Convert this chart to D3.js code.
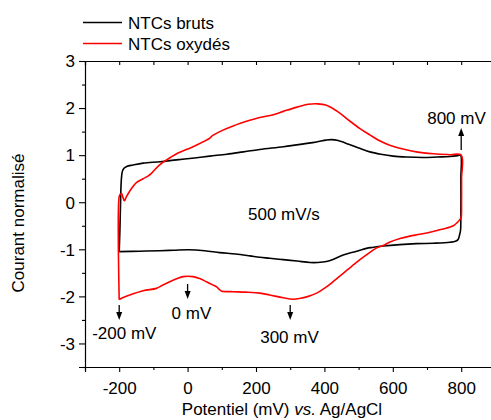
<!DOCTYPE html>
<html>
<head>
<meta charset="utf-8">
<script src="https://cdn.jsdelivr.net/npm/d3@7"></script>
<style>
  body { margin: 0; background: #fff; }
  text { font-family: "Liberation Sans", Arial, sans-serif; }
</style>
</head>
<body>
<div id="chart"></div>
<script>
// NTCs bruts : cycle (mV, courant normalise)
let brutsPotential = [-200, -198, -196, -194, -191, -186, -178, -160, -130, -80, -32, 20, 65, 115, 163, 211, 280, 340, 377, 405, 421, 440, 475, 505, 533, 565, 601, 640, 689, 730, 767, 790, 798,
  799, 799, 798, 795, 791, 783, 767, 720, 669, 620, 572, 540, 523, 500, 480, 455, 430, 406, 380, 358, 320, 280, 240, 211, 182, 140, 94, 50, 2, -40, -81, -140, -200];
let brutsCurrent = [-1.05, -0.6, 0.0, 0.45, 0.65, 0.72, 0.76, 0.79, 0.83, 0.86, 0.9, 0.94, 0.98, 1.02, 1.07, 1.12, 1.18, 1.24, 1.28, 1.32, 1.33, 1.31, 1.22, 1.14, 1.07, 1.02, 0.98, 0.96, 0.95, 0.96, 0.97, 0.99, 1.0,
  0.5, -0.3, -0.6, -0.7, -0.79, -0.83, -0.85, -0.87, -0.88, -0.9, -0.93, -0.96, -0.98, -1.03, -1.07, -1.12, -1.2, -1.26, -1.28, -1.28, -1.25, -1.22, -1.19, -1.17, -1.14, -1.1, -1.07, -1.03, -1.01, -1.02, -1.03, -1.04, -1.05];

// NTCs oxydes
let oxydesPotential = [-200, -200, -197, -193, -189, -185, -180, -169, -149, -130, -115, -105, -81, -50, -32, 16, 65, 70, 94, 133, 182, 211, 250, 280, 320, 353, 380, 406, 440, 475, 505, 533, 560, 591, 630, 669, 720, 767, 800,
  801, 801, 800, 797, 790, 777, 747, 718, 679, 650, 621, 590, 572, 553, 530, 504, 480, 455, 430, 406, 380, 353, 330, 309, 280, 240, 211, 170, 133, 100, 94, 85, 75, 55, 35, 16, -13, -30, -52, -75, -91, -130, -169, -190, -200];
let oxydesCurrent = [-2.07, 0.12, 0.17, 0.18, 0.1, 0.03, 0.1, 0.24, 0.42, 0.5, 0.56, 0.62, 0.8, 0.95, 1.03, 1.18, 1.36, 1.4, 1.5, 1.62, 1.74, 1.8, 1.86, 1.93, 2.02, 2.08, 2.09, 2.06, 1.92, 1.72, 1.56, 1.43, 1.31, 1.21, 1.13, 1.07, 1.03, 1.01, 1.0,
  0.5, 0.0, -0.31, -0.36, -0.42, -0.5, -0.57, -0.62, -0.68, -0.72, -0.77, -0.85, -0.92, -0.97, -1.08, -1.22, -1.36, -1.51, -1.66, -1.8, -1.92, -2.0, -2.04, -2.06, -2.03, -1.97, -1.93, -1.91, -1.9, -1.89, -1.86, -1.8, -1.76, -1.69, -1.62, -1.58, -1.58, -1.62, -1.69, -1.77, -1.83, -1.88, -1.97, -2.03, -2.07];

let xTicks = [-200, 0, 200, 400, 600, 800];
let xMinorTicks = [-300, -100, 100, 300, 500, 700, 900];
let yTicks = [-3, -2, -1, 0, 1, 2, 3];
let yMinorTicks = [-3.5, -2.5, -1.5, -0.5, 0.5, 1.5, 2.5];

let seriesNames = ["NTCs bruts", "NTCs oxydés"];
let seriesColors = ["#000000", "#ff0000"];

// annotations
let peakPositions = [800, -200, 0, 300];
let peakLabels = ["800 mV", "-200 mV", "0 mV", "300 mV"];

let chartW = 491, chartH = 420;
let padLeft = 85, padTop = 61, padBottom = 367;

let svg = d3.select("#chart").append("svg")
  .attr("width", chartW)
  .attr("height", chartH);

let xScale = d3.scaleLinear().domain([-300, 900]).range([padLeft, padLeft + 1200 * 0.342]);
let yScale = d3.scaleLinear().domain([-3.5, 3]).range([padBottom, padTop]);

let fmt = d => String(d);

// axes
let xAxis = d3.axisBottom(xScale).tickValues(xTicks).tickSize(5).tickPadding(10).tickFormat(fmt);
svg.append("g").attr("transform", "translate(0," + padBottom + ")").call(xAxis);
svg.append("g").attr("transform", "translate(0," + padBottom + ")")
  .call(d3.axisBottom(xScale).tickValues(xMinorTicks).tickSize(3).tickFormat(""))
  .call(g => g.select(".domain").remove());

svg.append("g").attr("transform", "translate(0," + padTop + ")")
  .call(d3.axisTop(xScale).tickValues(xTicks.concat(xMinorTicks)).tickSize(-4).tickFormat(""));

let yAxis = d3.axisLeft(yScale).tickValues(yTicks).tickSize(6).tickPadding(4).tickFormat(fmt);
let yAxisGroup = svg.append("g").attr("transform", "translate(" + padLeft + ",0)").call(yAxis);
svg.append("g").attr("transform", "translate(" + padLeft + ",0)")
  .call(d3.axisLeft(yScale).tickValues(yMinorTicks).tickSize(3).tickFormat(""))
  .call(g => g.select(".domain").remove());

svg.selectAll(".domain").attr("stroke", "#000").attr("stroke-width", 1.2);
svg.selectAll(".tick line").attr("stroke", "#000").attr("stroke-width", 1.1);
svg.selectAll(".tick text")
  .attr("font-size", "17px")
  .attr("fill", "#000")
  .style("font-family", "'Liberation Sans', Arial, sans-serif");
yAxisGroup.selectAll(".tick text").attr("dy", "0.34em");

// axis titles
let xTitle = svg.append("text")
  .attr("x", 282)
  .attr("y", 415)
  .attr("text-anchor", "middle")
  .attr("font-size", "17px");
xTitle.append("tspan").text("Potentiel (mV) ");
xTitle.append("tspan").attr("font-style", "italic").text("vs.");
xTitle.append("tspan").text(" Ag/AgCl");

svg.append("text")
  .attr("transform", "translate(24,223) rotate(-90)")
  .attr("text-anchor", "middle")
  .attr("font-size", "17px")
  .text("Courant normalisé");

// curves
let line = d3.line()
  .x(d => xScale(d[0]))
  .y(d => yScale(d[1]))
  .curve(d3.curveCatmullRom.alpha(0.5));

let brutsData = brutsPotential.map((p, i) => [p, brutsCurrent[i]]);
let oxydesData = oxydesPotential.map((p, i) => [p, oxydesCurrent[i]]);

svg.selectAll(".cv")
  .data([brutsData, oxydesData])
  .enter()
  .append("path")
  .attr("class", "cv")
  .attr("d", line)
  .attr("fill", "none")
  .attr("stroke", (d, i) => seriesColors[i])
  .attr("stroke-width", 1.6)
  .attr("stroke-linejoin", "round");

// legend
let legend = svg.append("g");
seriesNames.forEach((name, i) => {
  let ly = 22.5 + i * 21;
  legend.append("line")
    .attr("x1", 83).attr("x2", 122)
    .attr("y1", ly).attr("y2", ly)
    .attr("stroke", seriesColors[i])
    .attr("stroke-width", 1.6);
  legend.append("text")
    .attr("x", 128)
    .attr("y", ly + 6)
    .attr("font-size", "17px")
    .text(name);
});

// arrows + labels
function arrow(x, yFrom, yTo) {
  let dir = yTo > yFrom ? 1 : -1;
  svg.append("line")
    .attr("x1", x).attr("x2", x)
    .attr("y1", yFrom).attr("y2", yTo - dir * 6)
    .attr("stroke", "#000").attr("stroke-width", 1.3);
  svg.append("path")
    .attr("d", "M" + (x - 3) + "," + (yTo - dir * 8) + "L" + (x + 3) + "," + (yTo - dir * 8) + "L" + x + "," + yTo + "Z")
    .attr("fill", "#000");
}

// 800 mV (vers le haut)
arrow(xScale(peakPositions[0]), 150, 128);
svg.append("text").attr("x", xScale(peakPositions[0]) - 34).attr("y", 124).attr("font-size", "17px").text(peakLabels[0]);
// -200 mV
arrow(xScale(peakPositions[1]), 305, 320);
svg.append("text").attr("x", xScale(peakPositions[1]) - 27).attr("y", 339).attr("font-size", "17px").text(peakLabels[1]);
// 0 mV
arrow(xScale(peakPositions[2]), 284, 299);
svg.append("text").attr("x", xScale(peakPositions[2]) - 16).attr("y", 319).attr("font-size", "17px").text(peakLabels[2]);
// 300 mV
arrow(xScale(peakPositions[3]), 305, 320);
svg.append("text").attr("x", xScale(peakPositions[3]) - 30).attr("y", 343).attr("font-size", "17px").text(peakLabels[3]);

svg.append("text")
  .attr("x", 248)
  .attr("y", 220)
  .attr("font-size", "17px")
  .text("500 mV/s");
</script>
</body>
</html>
